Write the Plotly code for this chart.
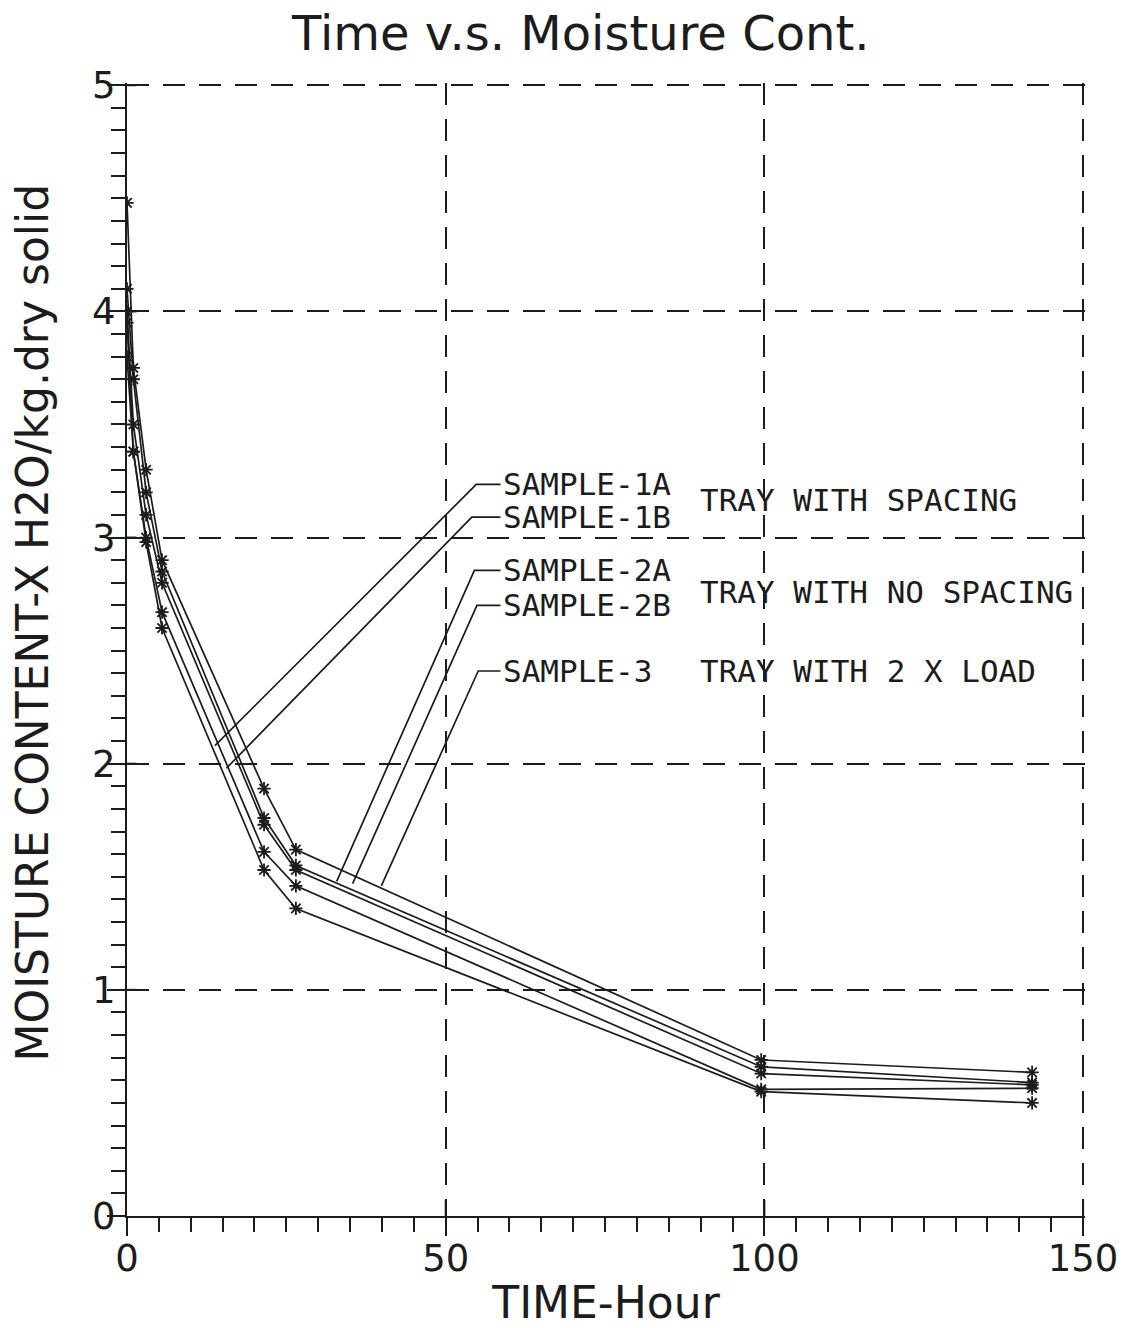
import plotly.graph_objects as go

# Drying time (hours) at which each tray was weighed
time_h = [0, 1, 3, 5.5, 21.5, 26.5, 99.5, 142]

# Moisture content, kg H2O / kg dry solid
sample_1a = [4.48, 3.75, 3.30, 2.90, 1.89, 1.62, 0.69, 0.635]
sample_1b = [4.10, 3.70, 3.20, 2.85, 1.76, 1.55, 0.66, 0.59]
sample_2a = [4.00, 3.50, 3.10, 2.80, 1.73, 1.53, 0.63, 0.58]
sample_2b = [3.95, 3.38, 3.00, 2.67, 1.61, 1.46, 0.56, 0.565]
sample_3 = [3.80, 3.38, 2.98, 2.60, 1.53, 1.36, 0.55, 0.50]

series_names = ["SAMPLE-1A", "SAMPLE-1B", "SAMPLE-2A", "SAMPLE-2B", "SAMPLE-3"]
series_values = [sample_1a, sample_1b, sample_2a, sample_2b, sample_3]

# Leader lines: label corner (t, x) and the point on the curve it refers to
label_corner_t = [54.8, 54.1, 54.5, 54.9, 55.1]
label_corner_x = [3.235, 3.09, 2.855, 2.70, 2.41]
leader_tip_t = [13.8, 15.6, 32.9, 35.4, 39.9]
leader_tip_x = [2.08, 1.98, 1.48, 1.47, 1.46]
label_start_t = 58.6

group_labels = ["TRAY WITH SPACING", "TRAY WITH NO SPACING", "TRAY WITH 2 X LOAD"]
group_label_x = [3.165, 2.76, 2.41]

INK = "#1c1c1c"
MONO = "DejaVu Sans Mono"
GRID_DASH = "22px,14px"

fig = go.Figure()

for name, vals in zip(series_names, series_values):
    fig.add_trace(go.Scatter(
        x=time_h, y=vals, mode="lines+markers", name=name,
        line=dict(color=INK, width=1.7),
        marker=dict(symbol="asterisk-open", size=11,
                    line=dict(color=INK, width=1.8)),
        showlegend=False,
    ))

for i, name in enumerate(series_names):
    fig.add_trace(go.Scatter(
        x=[label_start_t, label_corner_t[i], leader_tip_t[i]],
        y=[label_corner_x[i], label_corner_x[i], leader_tip_x[i]],
        mode="lines", line=dict(color=INK, width=1.7),
        showlegend=False, hoverinfo="skip",
    ))
    fig.add_annotation(
        x=label_start_t, y=label_corner_x[i], text=name,
        xanchor="left", yanchor="middle", showarrow=False,
        font=dict(family=MONO, size=31, color=INK),
    )

for txt, yv in zip(group_labels, group_label_x):
    fig.add_annotation(
        x=89.6, y=yv, text=txt, xanchor="left", yanchor="middle",
        showarrow=False, font=dict(family=MONO, size=31, color=INK),
    )

# Vertical axis title, placed as a rotated annotation
fig.add_annotation(
    xref="paper", yref="paper", x=-0.099, y=0.524,
    text="MOISTURE CONTENT-X H2O/kg.dry solid", textangle=-90,
    xanchor="center", yanchor="middle", showarrow=False,
    font=dict(family="DejaVu Sans", size=44, color=INK),
)

# Major ticks crossing into the plot area
for t in [50, 100, 150]:
    fig.add_shape(type="line", xref="x", yref="paper", x0=t, x1=t,
                  y0=0, y1=0.014, line=dict(color=INK, width=2))
for v in [1, 2, 3, 4, 5]:
    fig.add_shape(type="line", xref="paper", yref="y", x0=0, x1=0.01,
                  y0=v, y1=v, line=dict(color=INK, width=2))

tick_font = dict(family="DejaVu Sans", size=37, color=INK)

fig.update_layout(
    width=1130, height=1328,
    margin=dict(l=127, r=45, t=83, b=112, autoexpand=False),
    paper_bgcolor="white", plot_bgcolor="white",
    title=dict(text="Time v.s. Moisture Cont.", x=0.514, xanchor="center",
               y=0.975, yanchor="middle",
               font=dict(family="DejaVu Sans", size=48, color=INK)),
    xaxis=dict(
        range=[0, 150.3], tickvals=[0, 50, 100, 150], automargin=False,
        showline=True, linecolor=INK, linewidth=2, mirror=False,
        ticks="outside", ticklen=18, tickwidth=2, tickcolor=INK,
        ticklabelstandoff=-9,
        minor=dict(dtick=5, ticks="outside", ticklen=14, tickwidth=1.5,
                   tickcolor=INK, showgrid=False),
        showgrid=True, gridcolor=INK, gridwidth=2, griddash=GRID_DASH,
        zeroline=False, tickfont=tick_font,
        title=dict(text="TIME-Hour",
                   font=dict(family="DejaVu Sans", size=44, color=INK),
                   standoff=12),
    ),
    yaxis=dict(
        range=[0, 5.01], tickvals=[0, 1, 2, 3, 4, 5], automargin=False,
        showline=True, linecolor=INK, linewidth=2,
        ticks="outside", ticklen=18, tickwidth=2, tickcolor=INK,
        ticklabelstandoff=-16,
        minor=dict(dtick=0.1, ticks="outside", ticklen=14, tickwidth=1.5,
                   tickcolor=INK, showgrid=False),
        showgrid=True, gridcolor=INK, gridwidth=2, griddash=GRID_DASH,
        zeroline=False, tickfont=tick_font,
    ),
)

fig.write_html("out.html")
